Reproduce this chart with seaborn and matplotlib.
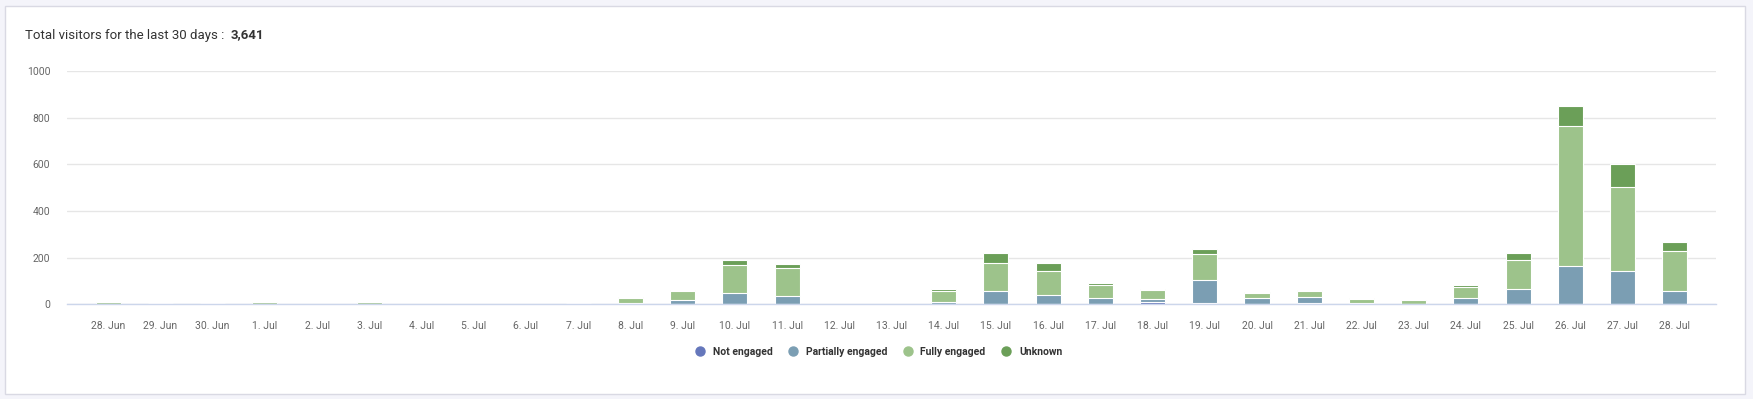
import seaborn as sns
import pandas as pd
import matplotlib.pyplot as plt
from matplotlib.lines import Line2D
from matplotlib.patches import Rectangle

#-----------------------------------------------------------------------------------------------------------------------
"""Data read off the chart"""
dates = ['28. Jun', '29. Jun', '30. Jun', '1. Jul', '2. Jul', '3. Jul', '4. Jul', '5. Jul', '6. Jul', '7. Jul',
         '8. Jul', '9. Jul', '10. Jul', '11. Jul', '12. Jul', '13. Jul', '14. Jul', '15. Jul', '16. Jul', '17. Jul',
         '18. Jul', '19. Jul', '20. Jul', '21. Jul', '22. Jul', '23. Jul', '24. Jul', '25. Jul', '26. Jul', '27. Jul',
         '28. Jul']

not_engaged = [0, 0, 0, 0, 0, 0, 0, 0, 0, 0,
               0, 2, 0, 0, 0, 0, 2, 0, 0, 0,
               7, 5, 0, 5, 0, 0, 0, 0, 2, 0,
               0]
partially_engaged = [0, 0, 0, 0, 0, 0, 0, 0, 0, 0,
                     3, 14, 46, 34, 0, 0, 8, 56, 37, 26,
                     13, 98, 24, 27, 5, 2, 27, 64, 161, 142,
                     56]
fully_engaged = [9, 6, 6, 9, 1, 9, 1, 1, 1, 5,
                 22, 40, 120, 119, 1, 2, 46, 122, 103, 57,
                 40, 113, 22, 22, 17, 14, 48, 125, 602, 362,
                 173]
unknown = [1, 0, 0, 1, 0, 1, 0, 0, 0, 0,
           3, 4, 25, 20, 0, 0, 8, 41, 36, 7,
           3, 20, 6, 7, 4, 1, 8, 32, 88, 98,
           39]

series_names = ['Not engaged', 'Partially engaged', 'Fully engaged', 'Unknown']
colors = ['#6577bb', '#7b9eb3', '#9dc38b', '#6b9f58']

total_label = 'Total visitors for the last 30 days :'
total_value = '3,641'
y_ticks = [0, 200, 400, 600, 800, 1000]

#-----------------------------------------------------------------------------------------------------------------------
"""Stacked levels (top of each segment)"""
df = pd.DataFrame({'date': dates, 'ne': not_engaged, 'pe': partially_engaged,
                   'fe': fully_engaged, 'un': unknown})
df['lvl_ne'] = df['ne']
df['lvl_pe'] = df['lvl_ne'] + df['pe']
df['lvl_fe'] = df['lvl_pe'] + df['fe']
df['lvl_un'] = df['lvl_fe'] + df['un']

#-----------------------------------------------------------------------------------------------------------------------
"""Figure"""
sns.set_style('white')
plt.rcParams['font.family'] = ['Roboto', 'DejaVu Sans']

fig = plt.figure(figsize=(17.53, 3.99), dpi=100)
fig.patch.set_facecolor('#f4f4fa')
W, H = 1753, 399

# white card, kept behind the axes
fig.patches.append(Rectangle((5 / W, 1 - 394 / H), 1740 / W, 388 / H, transform=fig.transFigure,
                             facecolor='white', edgecolor='#d9d9e3', linewidth=1, zorder=-5))

ax = fig.add_axes([67 / W, 1 - 304 / H, (1716 - 67) / W, (304 - 71.5) / H])
ax.set_facecolor('none')

# top segment first, lower segments drawn over it
for lvl, c in zip(['lvl_un', 'lvl_fe', 'lvl_pe', 'lvl_ne'], colors[::-1]):
    sns.barplot(data=df, x='date', y=lvl, order=dates, color=c, width=0.48,
                edgecolor='white', linewidth=0.8, errorbar=None, saturation=1, ax=ax, zorder=3)

#-----------------------------------------------------------------------------------------------------------------------
"""Axes styling"""
ax.set_xlim(-0.79, len(dates) - 1 + 0.79)
ax.set_ylim(0, 1000)
ax.set_yticks(y_ticks)
ax.set_xlabel('')
ax.set_ylabel('')

for s in ['top', 'right', 'left']:
    ax.spines[s].set_visible(False)
ax.spines['bottom'].set_color('#ccd6eb')
ax.spines['bottom'].set_linewidth(1)
ax.spines['bottom'].set_zorder(4)

ax.grid(axis='y', color='#e6e6e6', linewidth=1, zorder=0)
ax.grid(axis='x', visible=False)
ax.set_axisbelow(True)

ax.tick_params(axis='x', colors='#ccd6eb', length=9, width=1, pad=3, labelcolor='#666666', labelsize=7.5)
ax.tick_params(axis='y', length=0, pad=12, labelcolor='#666666', labelsize=7.5)

#-----------------------------------------------------------------------------------------------------------------------
"""Title and legend"""
fig.text(25 / W, 1 - 35 / H, total_label, color='#333333', fontsize=9.5, va='center', ha='left')
fig.text(231 / W, 1 - 35 / H, total_value, color='#333333', fontsize=9.5, fontweight='bold', va='center', ha='left')

handles = [Line2D([0], [0], marker='o', linestyle='none', markersize=6.5, markerfacecolor=c, markeredgecolor=c)
           for c in colors]
leg = fig.legend(handles, series_names, loc='center', bbox_to_anchor=(876 / W, 1 - 352 / H), ncol=4,
                 frameon=False, handletextpad=0.2, columnspacing=1.0, prop={'size': 7.5, 'weight': 'bold'})
for t in leg.get_texts():
    t.set_color('#333333')

fig.savefig('out.png', dpi=100, facecolor=fig.get_facecolor())
